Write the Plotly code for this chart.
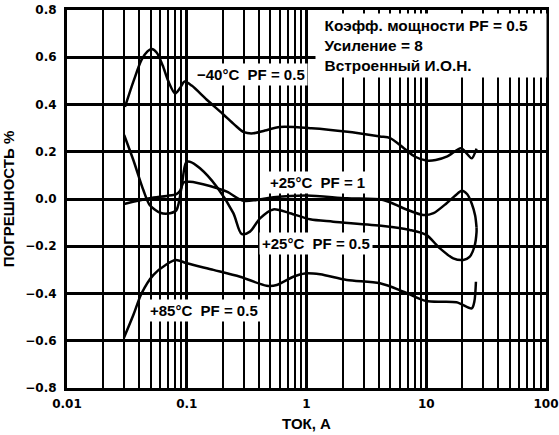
import math
import plotly.graph_objects as go

# ---- data ----
m40_x = [0.0305, 0.036, 0.042, 0.047, 0.051, 0.056, 0.063, 0.07, 0.08, 0.088, 0.096, 0.11, 0.147,
         0.2, 0.25, 0.3, 0.36, 0.45, 0.6, 1.1, 2.2, 4.1, 5.0, 6.5, 8.0, 10, 12, 15, 19.5, 22, 24, 26.3]
m40_y = [0.39, 0.50, 0.59, 0.625, 0.635, 0.62, 0.565, 0.50, 0.447, 0.47, 0.497, 0.48, 0.42,
         0.36, 0.315, 0.283, 0.278, 0.29, 0.305, 0.30, 0.285, 0.265, 0.258, 0.215, 0.18, 0.163, 0.165, 0.18, 0.215, 0.19, 0.172, 0.213]

p25pf1_x = [0.03, 0.049, 0.068, 0.082, 0.088, 0.094, 0.106, 0.156, 0.216, 0.297, 0.384, 0.53, 1.0,
            2.17, 4.37, 6.45, 9.45, 11.5, 14.8, 17.5, 19.8, 22, 24, 25.6, 26.3]
p25pf1_y = [-0.021, 0.003, 0.013, 0.021, 0.035, 0.07, 0.073, 0.055, 0.031, -0.008, -0.004, 0.007, 0.015,
            0.003, -0.004, -0.039, -0.068, -0.06, -0.018, 0.015, 0.035, 0.02, -0.02, -0.07, -0.12]

p25pf05_x = [0.03, 0.0358, 0.0434, 0.049, 0.060, 0.0725, 0.082, 0.0906, 0.0986, 0.106, 0.129, 0.178,
             0.245, 0.287, 0.337, 0.409, 0.528, 0.728, 1.07, 1.67, 4.37, 7.3, 10, 13, 16.8, 20.4, 23, 25.3, 26.3, 26.3]
p25pf05_y = [0.271, 0.165, 0.038, -0.025, -0.058, -0.06, -0.047, 0.052, 0.154, 0.158, 0.13, 0.052,
             -0.06, -0.148, -0.138, -0.082, -0.044, -0.06, -0.086, -0.096, -0.114, -0.131, -0.152, -0.209, -0.251, -0.258, -0.245, -0.2, -0.14, -0.12]

p85_x = [0.0299, 0.0358, 0.042, 0.0525, 0.068, 0.081, 0.1, 0.167, 0.279, 0.465, 0.564, 0.776, 0.97,
         1.3, 2.17, 4.11, 6.45, 10, 17.9, 24, 25.2, 26]
p85_y = [-0.587, -0.491, -0.399, -0.322, -0.276, -0.258, -0.272, -0.30, -0.329, -0.367, -0.364, -0.329, -0.315,
         -0.319, -0.343, -0.357, -0.392, -0.432, -0.437, -0.463, -0.435, -0.35]

x_ticks = [0.01, 0.1, 1, 10, 100]
x_ticktext = ["0.01", "0.1", "1", "10", "100"]
y_ticks = [-0.8, -0.6, -0.4, -0.2, 0.0, 0.2, 0.4, 0.6, 0.8]
y_ticktext = ["\u22120.8", "\u22120.6", "\u22120.4", "\u22120.2", "0.0", "0.2", "0.4", "0.6", "0.8"]
x_minor = [m * 10 ** e for e in range(-2, 2) for m in range(2, 10)]

labels = ["\u221240\u00b0C\u00a0\u00a0PF = 0.5", "+25\u00b0C\u00a0\u00a0PF = 1",
          "+25\u00b0C\u00a0\u00a0PF = 0.5", "+85\u00b0C\u00a0\u00a0PF = 0.5"]
label_x = [0.344, 1.236, 1.2, 0.1406]
label_y = [0.529, 0.068, -0.188, -0.47]

note_lines = ["Коэфф. мощности PF = 0.5", "Усиление = 8", "Встроенный И.О.Н."]

x_title = "ТОК, А"
y_title = "ПОГРЕШНОСТЬ %"

# ---- figure ----
fig = go.Figure()
line = dict(color="black", width=2.5, shape="spline", smoothing=0.8)
for xs, ys in [(m40_x, m40_y), (p25pf1_x, p25pf1_y), (p25pf05_x, p25pf05_y), (p85_x, p85_y)]:
    fig.add_trace(go.Scatter(x=xs, y=ys, mode="lines", line=line, showlegend=False, hoverinfo="skip"))

lab_font = dict(family="Liberation Sans, Arial", size=15, color="black", weight="bold")
for t, lx, ly in zip(labels, label_x, label_y):
    fig.add_annotation(x=math.log10(lx), y=ly, xref="x", yref="y", text=t, showarrow=False,
                       font=lab_font, bgcolor="white", borderpad=2)

fig.add_annotation(xref="paper", yref="paper", x=0.518, y=0.992, xanchor="left", yanchor="top",
                   text="<br>".join("\u00a0\u00a0" + s for s in note_lines), align="left",
                   showarrow=False, font=dict(lab_font, size=15.4), bgcolor="white", borderpad=0,
                   width=230, height=63, valign="middle")

tick_font = dict(family="DejaVu Sans", size=12, color="black", weight="bold")
fig.update_xaxes(type="log", range=[-2, 2], tickvals=x_ticks, ticktext=x_ticktext,
                 showgrid=True, gridcolor="black", gridwidth=3,
                 minor=dict(tickvals=x_minor, showgrid=True, gridcolor="black", gridwidth=1.6, ticks=""),
                 showline=True, linecolor="black", linewidth=3, mirror=True,
                 ticks="", tickfont=tick_font, ticklabelstandoff=3, automargin=False,
                 title=dict(text=x_title, font=lab_font, standoff=9), zeroline=False)
fig.update_yaxes(range=[-0.8, 0.8], tickvals=y_ticks, ticktext=y_ticktext,
                 showgrid=True, gridcolor="black", gridwidth=2.5,
                 showline=True, linecolor="black", linewidth=3, mirror=True,
                 ticks="", tickfont=tick_font, ticklabelstandoff=5, automargin=False,
                 title=dict(text=y_title, font=lab_font, standoff=10), zeroline=False)

fig.update_layout(width=559, height=435, autosize=False,
                  margin=dict(l=67, r=13, t=10, b=47),
                  paper_bgcolor="white", plot_bgcolor="white")

fig.write_html("out.html", config={"displayModeBar": False},
               post_script="document.body.style.margin='0';")
